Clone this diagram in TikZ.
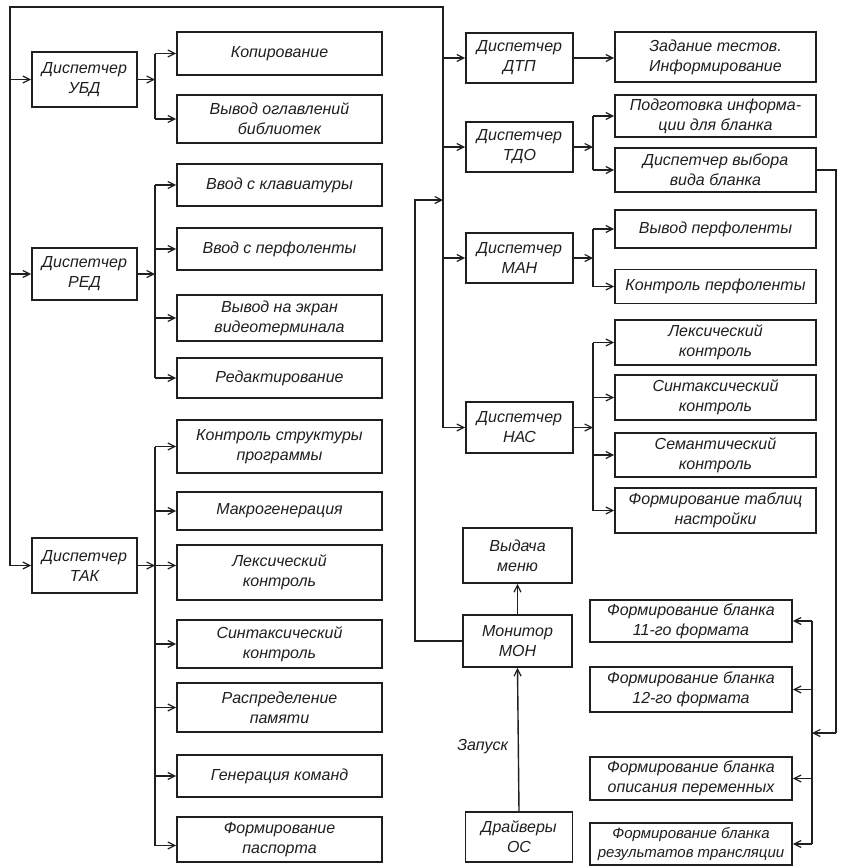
\documentclass[tikz,border=0pt]{standalone}
\usepackage{fontspec}
\setmainfont{Liberation Sans}
\usetikzlibrary{arrows.meta}
\definecolor{ink}{gray}{0.12}
\begin{document}
\begin{tikzpicture}[x=1pt,y=-1pt,
  box/.style={draw=ink, line width=1.7pt, align=center, inner sep=0pt,
    font=\fontsize{16}{20}\selectfont\itshape, text=ink},
  ln/.style={draw=ink, line width=1.4pt},
  arr/.style={ln, -{Straight Barb[length=7pt,width=7pt,line width=1.2pt]}},
  lbl/.style={font=\fontsize{16}{20}\selectfont\itshape, text=ink},
]
\useasboundingbox[fill=white] (0,0) rectangle (843,868);

% ---------- left group: dispatchers ----------
\node[box, minimum width=105pt, minimum height=55pt] (ubd) at (84.5,79.5) {Диспетчер\\УБД};
\node[box, minimum width=105pt, minimum height=52pt] (red) at (84.5,274) {Диспетчер\\РЕД};
\node[box, minimum width=105pt, minimum height=55pt] (tak) at (84.5,565.5) {Диспетчер\\ТАК};

% ---------- left group: functions ----------
\node[box, minimum width=205pt, minimum height=43pt] (kop)  at (279.5,53.5) {Копирование};
\node[box, minimum width=205pt, minimum height=48pt] (vogl) at (279.5,119) {Вывод оглавлений\\библиотек};
\node[box, minimum width=205pt, minimum height=42pt] (klav) at (279.5,185) {Ввод с клавиатуры};
\node[box, minimum width=205pt, minimum height=42pt] (vperfl) at (279.5,249) {Ввод с перфоленты};
\node[box, minimum width=205pt, minimum height=46pt] (ekr)  at (279.5,318) {Вывод на экран\\видеотерминала};
\node[box, minimum width=205pt, minimum height=40pt] (redk) at (279.5,378) {Редактирование};
\node[box, minimum width=205pt, minimum height=53pt] (kstr) at (279.5,446.5) {Контроль структуры\\программы};
\node[box, minimum width=205pt, minimum height=38pt] (makr) at (279.5,511) {Макрогенерация};
\node[box, minimum width=205pt, minimum height=55pt] (leks) at (279.5,572.5) {Лексический\\контроль};
\node[box, minimum width=205pt, minimum height=48pt] (sint) at (279.5,644) {Синтаксический\\контроль};
\node[box, minimum width=205pt, minimum height=49pt] (rasp) at (279.5,707.5) {Распределение\\памяти};
\node[box, minimum width=205pt, minimum height=42pt] (gen)  at (279.5,776) {Генерация команд};
\node[box, minimum width=205pt, minimum height=45pt] (pasp) at (279.5,839.5) {Формирование\\паспорта};

% ---------- right group: dispatchers ----------
\node[box, minimum width=107pt, minimum height=50pt] (dtp) at (519.5,58) {Диспетчер\\ДТП};
\node[box, minimum width=107pt, minimum height=50pt] (tdo) at (519.5,147) {Диспетчер\\ТДО};
\node[box, minimum width=107pt, minimum height=50pt] (man) at (519.5,258) {Диспетчер\\МАН};
\node[box, minimum width=107pt, minimum height=51pt] (nas) at (519.5,427.5) {Диспетчер\\НАС};
\node[box, minimum width=109pt, minimum height=55pt] (menu) at (517.5,555.5) {Выдача\\меню};
\node[box, minimum width=109pt, minimum height=52pt] (mon) at (517.5,641) {Монитор\\МОН};
\node[box, minimum width=107pt, minimum height=50pt] (drv) at (519,837) {Драйверы\\ОС};

% ---------- right group: functions ----------
\node[box, minimum width=201pt, minimum height=50pt] (zad)  at (715.5,57) {Задание тестов.\\Информирование};
\node[box, minimum width=201pt, minimum height=42pt] (podg) at (715.5,116) {Подготовка информа-\\ции для бланка};
\node[box, minimum width=201pt, minimum height=44pt] (dvyb) at (715.5,170) {Диспетчер выбора\\вида бланка};
\node[box, minimum width=201pt, minimum height=38pt] (vyvp) at (715.5,229) {Вывод перфоленты};
\node[box, minimum width=201pt, minimum height=34pt] (kper) at (715.5,286.5) {Контроль перфоленты};
\node[box, minimum width=201pt, minimum height=45pt] (rlek) at (715.5,342.5) {Лексический\\контроль};
\node[box, minimum width=201pt, minimum height=45pt] (rsin) at (715.5,397.5) {Синтаксический\\контроль};
\node[box, minimum width=201pt, minimum height=44pt] (rsem) at (715.5,455) {Семантический\\контроль};
\node[box, minimum width=201pt, minimum height=45pt] (rtab) at (715.5,510.5) {Формирование таблиц\\настройки};

% ---------- form generators ----------
\node[box, minimum width=202pt, minimum height=42pt] (f11) at (691,621) {Формирование бланка\\11-го формата};
\node[box, minimum width=202pt, minimum height=45pt] (f12) at (691,689.5) {Формирование бланка\\12-го формата};
\node[box, minimum width=202pt, minimum height=43pt] (fop) at (691,778.5) {Формирование бланка\\описания переменных};
\node[box, minimum width=202pt, minimum height=42pt, font=\fontsize{15}{19}\selectfont\itshape] (frz) at (691,844) {Формирование бланка\\результатов трансляции};

% ---------- trunk lines ----------
\coordinate (tl) at (10,7);
\coordinate (tr) at (443,7);
\coordinate (bl) at (155,0);
\coordinate (br) at (593,0);
\coordinate (bf) at (812,0);
\coordinate (mj) at (415,200);
\coordinate (oc) at (836,733);

% main distribution: monitor -> all dispatchers
\draw[arr] (mon.west) -| (mj) -- (tr |- mj);
\draw[arr] (tr) -- (tl) |- (tak.west);
\draw[arr] (tl |- ubd.west) -- (ubd.west);
\draw[arr] (tl |- red.west) -- (red.west);
\draw[arr] (tl) -- (tr) |- (nas.west);
\draw[arr] (tr |- dtp.west) -- (dtp.west);
\draw[arr] (tr |- tdo.west) -- (tdo.west);
\draw[arr] (tr |- man.west) -- (man.west);

% УБД
\draw[arr] (ubd.east) -- (bl |- ubd.east);
\draw[ln] (bl |- kop.west) -- (bl |- vogl.west);
\draw[arr] (bl |- kop.west) -- (kop.west);
\draw[arr] (bl |- vogl.west) -- (vogl.west);

% РЕД
\draw[arr] (red.east) -- (bl |- red.east);
\draw[ln] (bl |- klav.west) -- (bl |- redk.west);
\foreach \n in {klav,vperfl,ekr,redk} \draw[arr] (bl |- \n.west) -- (\n.west);

% ТАК
\draw[arr] (tak.east) -- (bl |- tak.east);
\draw[ln] (bl |- kstr.west) -- ([yshift=-6pt]bl |- pasp.west);
\draw[arr] (bl |- tak.east) -- (leks.west |- tak.east);
\draw[arr] ([yshift=-6pt]bl |- pasp.west) -- ([yshift=-6pt]pasp.west);
\foreach \n in {kstr,makr,sint,rasp,gen} \draw[arr] (bl |- \n.west) -- (\n.west);

% ДТП
\draw[arr] (dtp.east) -- (zad.west |- dtp.east);

% ТДО
\draw[arr] (tdo.east) -- (br |- tdo.east);
\draw[ln] (br |- podg.west) -- (br |- dvyb.west);
\foreach \n in {podg,dvyb} \draw[arr] (br |- \n.west) -- (\n.west);

% МАН
\draw[arr] (man.east) -- (br |- man.east);
\draw[ln] (br |- vyvp.west) -- (br |- kper.west);
\foreach \n in {vyvp,kper} \draw[arr] (br |- \n.west) -- (\n.west);

% НАС
\draw[arr] (nas.east) -- (br |- nas.east);
\draw[ln] (br |- rlek.west) -- (br |- rtab.west);
\foreach \n in {rlek,rsin,rsem,rtab} \draw[arr] (br |- \n.west) -- (\n.west);

% form selection
\draw[ln] (dvyb.east) -| (oc);
\draw[arr] (oc) -- (bf |- oc);
\draw[ln] (bf |- f11.east) -- (bf |- frz.east);
\foreach \n in {f11,f12,fop,frz} \draw[arr] (bf |- \n.east) -- (\n.east);

% monitor
\draw[arr] (mon.north) -- (menu.south);
\draw[arr] (drv.north) -- node[lbl, left=6pt, pos=0.45] (zap) {Запуск} (mon.south);
\end{tikzpicture}
\end{document}
